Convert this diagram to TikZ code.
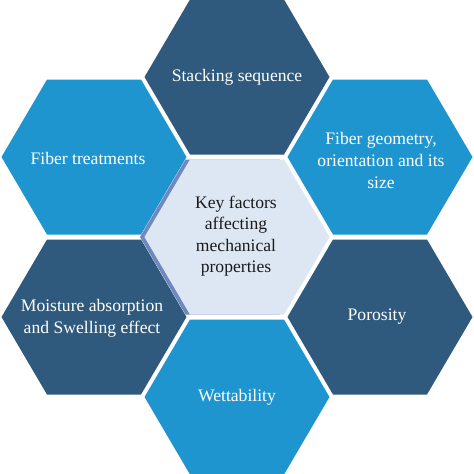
\documentclass[tikz,border=0pt]{standalone}
\usepackage{fontspec}
\setmainfont{Liberation Serif}
\definecolor{hexdark}{HTML}{2F5A7D}
\definecolor{hexlight}{HTML}{1F95D0}
\definecolor{hexcenter}{HTML}{DDE7F3}
\definecolor{hexshade}{HTML}{6F88BE}
\definecolor{centertext}{HTML}{1A1A1A}
\newcommand\hexat[3]{\fill[#3] (#1,#2) ++(-92.5,0) -- ++(45.5,-77.5) -- ++(94,0) -- ++(45.5,77.5) -- ++(-45.5,77.5) -- ++(-94,0) -- cycle;}
\tikzset{
  darkhex/.style={fill=hexdark},
  lighthex/.style={fill=hexlight},
  centerhex/.style={fill=hexcenter},
  shadehex/.style={fill=hexshade},
  lbl/.style={text=white, font=\fontsize{17.6}{22}\selectfont, align=center, inner sep=0pt},
  clbl/.style={text=centertext, font=\fontsize{17.6}{21.5}\selectfont, align=center, inner sep=0pt},
}
\begin{document}
\begin{tikzpicture}[x=1pt,y=-1pt]
\fill[white] (0,0) rectangle (474,474);
\useasboundingbox (0,0) rectangle (474,474);
% ring
\hexat{237}{77}{darkhex}
\hexat{94}{157}{lighthex}
\hexat{380}{157}{lighthex}
\hexat{94}{317}{darkhex}
\hexat{380}{317}{darkhex}
\hexat{237}{397}{lighthex}
% center with shade
\hexat{232.5}{237}{shadehex}
\hexat{237}{237}{centerhex}
% labels
\node[lbl] (stack) at (237,77) {Stacking sequence};
\node[lbl] (treat) at (88,158) {Fiber treatments};
\node[lbl] (geom) at (381,160) {Fiber geometry,\\orientation and its\\size};
\node[lbl] (moist) at (92,318) {Moisture absorption\\and Swelling effect};
\node[lbl] (poro) at (377,317) {Porosity};
\node[lbl] (wet) at (237,397) {Wettability};
\node[clbl] (key) at (236,236) {Key factors\\affecting\\mechanical\\properties};
\end{tikzpicture}
\end{document}
